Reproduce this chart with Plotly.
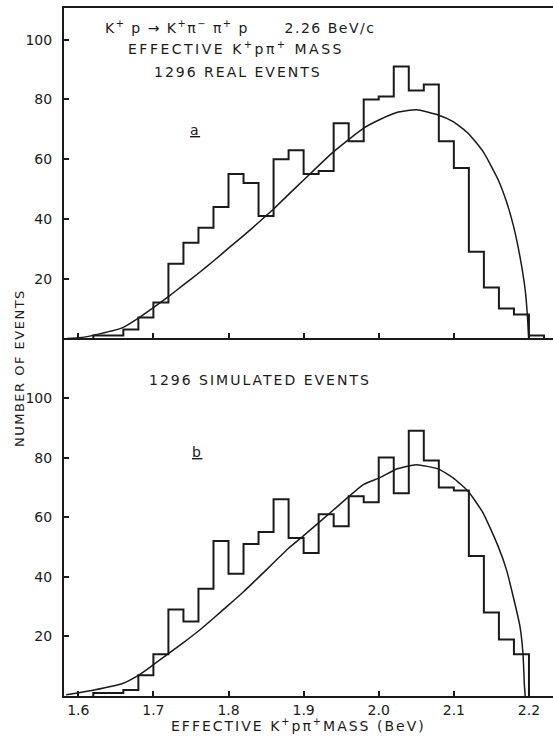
import plotly.graph_objects as go

# ---------------- data ----------------
tick_vals = [1.6, 1.7, 1.8, 1.9, 2.0, 2.1, 2.2]
tick_text = ["1.6", "1.7", "1.8", "1.9", "2.0", "2.1", "2.2"]
y_ticks = [20, 40, 60, 80, 100]
y_tick_text = ["20", "40", "60", "80", "100"]

# lower bin edges (bin width 0.02 BeV)
bins_a = [1.62, 1.64, 1.66, 1.68, 1.70, 1.72, 1.74, 1.76, 1.78, 1.80,
          1.82, 1.84, 1.86, 1.88, 1.90, 1.92, 1.94, 1.96, 1.98, 2.00,
          2.02, 2.04, 2.06, 2.08, 2.10, 2.12, 2.14, 2.16, 2.18, 2.20]
counts_a = [1, 1, 3, 7, 12, 25, 32, 37, 44, 55,
            52, 41, 60, 63, 55, 56, 72, 66, 80, 81,
            91, 83, 85, 66, 57, 29, 17, 10, 8, 1]
end_a = 2.22

bins_b = [1.62, 1.64, 1.66, 1.68, 1.70, 1.72, 1.74, 1.76, 1.78, 1.80,
          1.82, 1.84, 1.86, 1.88, 1.90, 1.92, 1.94, 1.96, 1.98, 2.00,
          2.02, 2.04, 2.06, 2.08, 2.10, 2.12, 2.14, 2.16, 2.18]
counts_b = [1, 1, 2, 7, 14, 29, 25, 36, 52, 41,
            51, 55, 66, 53, 48, 61, 57, 67, 65, 80,
            68, 89, 79, 70, 69, 47, 28, 19, 14]
end_b = 2.20

# phase-space curves
curve_a_x = [1.585, 1.601, 1.621, 1.659, 1.68, 1.70, 1.72, 1.74, 1.76, 1.78,
             1.80, 1.82, 1.84, 1.86, 1.88, 1.90, 1.94, 1.98, 2.001, 2.024,
             2.050, 2.079, 2.099, 2.119, 2.139, 2.159, 2.170, 2.179, 2.188, 2.195,
             2.198, 2.1996]
curve_a_y = [0, 0.2, 1.1, 3.6, 6.8, 10.3, 14.0, 17.9, 21.8, 25.9,
             30.2, 34.4, 38.8, 43.3, 48.2, 53.0, 62.5, 70.4, 73.2, 75.6,
             76.5, 74.8, 72.6, 68.7, 62.5, 53.1, 45.8, 38.0, 27.4, 16.2,
             7.3, 0]
curve_b_x = [1.584, 1.601, 1.621, 1.659, 1.68, 1.70, 1.72, 1.74, 1.76, 1.78,
             1.80, 1.82, 1.84, 1.86, 1.88, 1.90, 1.94, 1.98, 2.001, 2.024,
             2.050, 2.079, 2.099, 2.119, 2.139, 2.159, 2.170, 2.179, 2.188, 2.192,
             2.194, 2.195]
curve_b_y = [0.4, 1.1, 2.0, 4.2, 6.9, 10.5, 14.2, 17.9, 21.8, 26.1,
             30.5, 35.0, 39.8, 44.7, 49.6, 53.8, 62.5, 71.0, 73.2, 76.2,
             77.6, 76.2, 73.2, 68.7, 61.4, 50.2, 42.4, 33.4, 23.4, 14.4,
             3.2, 0]

# ---------------- layout helpers ----------------
W, H = 553, 742
ML, MR, MT, MB = 64, 0, 8, 46
PW, PH = W - ML - MR, H - MT - MB
def px(x):
    return (x - ML) / PW
def py(y):
    return (H - MB - y) / PH

split = py(338.4)
INK = "#1a1a1a"
FONT = "DejaVu Sans"


def spaced(s, sp=1.5):
    return f"<span style='letter-spacing:{sp}px'>{s}</span>"


def hist_xy(edges, counts, end):
    xs = [edges[0]] + list(edges) + [end, end]
    ys = [0] + list(counts) + [counts[-1], 0]
    return xs, ys


fig = go.Figure()
xa, ya = hist_xy(bins_a, counts_a, end_a)
fig.add_trace(go.Scatter(x=xa, y=ya, mode="lines", line=dict(shape="hv", color=INK, width=2),
                         xaxis="x", yaxis="y", showlegend=False, hoverinfo="skip"))
fig.add_trace(go.Scatter(x=curve_a_x, y=curve_a_y, mode="lines",
                         line=dict(shape="spline", smoothing=0.5, color=INK, width=1.5),
                         xaxis="x", yaxis="y", showlegend=False, hoverinfo="skip"))
xb, yb = hist_xy(bins_b, counts_b, end_b)
fig.add_trace(go.Scatter(x=xb, y=yb, mode="lines", line=dict(shape="hv", color=INK, width=2),
                         xaxis="x2", yaxis="y2", showlegend=False, hoverinfo="skip"))
fig.add_trace(go.Scatter(x=curve_b_x, y=curve_b_y, mode="lines",
                         line=dict(shape="spline", smoothing=0.5, color=INK, width=1.5),
                         xaxis="x2", yaxis="y2", showlegend=False, hoverinfo="skip"))

x_range = [1.581, 2.232]
axis_common = dict(showgrid=False, zeroline=False, showline=True, linecolor=INK, linewidth=2,
                   ticks="inside", ticklen=5, tickcolor=INK, tickwidth=1.5,
                   tickfont=dict(family=FONT, size=14, color=INK))

fig.update_layout(
    width=W, height=H,
    margin=dict(l=ML, r=MR, t=MT, b=MB),
    paper_bgcolor="white", plot_bgcolor="white",
    xaxis=dict(domain=[0, 1], anchor="y", range=x_range, tickvals=tick_vals,
               showticklabels=False, mirror=True, **axis_common),
    yaxis=dict(domain=[split, 1], anchor="x", range=[0, 110.6], tickvals=y_ticks,
               ticktext=y_tick_text, ticklabelstandoff=7, **axis_common),
    xaxis2=dict(domain=[0, 1], anchor="y2", range=x_range, tickvals=tick_vals,
                ticktext=tick_text, **axis_common),
    yaxis2=dict(domain=[0, split], anchor="x2", range=[0, 120], tickvals=y_ticks,
                ticktext=y_tick_text, ticklabelstandoff=7, **axis_common),
)

def label(text, x, y, size=14, sp=1.5, **kw):
    fig.add_annotation(text=spaced(text, sp), x=px(x), y=py(y), xref="paper", yref="paper",
                       xanchor="center", yanchor="middle",
                       showarrow=False, font=dict(family=FONT, size=size, color=INK), **kw)

label("K<sup>+</sup> p → K<sup>+</sup>π<sup>−</sup> π<sup>+</sup> p      2.26 BeV/c", 240, 27)
label("EFFECTIVE K<sup>+</sup>pπ<sup>+</sup> MASS", 236, 48, sp=2.5)
label("1296 REAL EVENTS", 238, 72, sp=2)
label("<u>a</u>", 195, 130)
label("1296 SIMULATED EVENTS", 260, 380, sp=2)
label("<u>b</u>", 197, 452)
label("NUMBER OF EVENTS", 19, 368, size=13, sp=1.5, textangle=-90)
label("EFFECTIVE K<sup>+</sup>pπ<sup>+</sup>MASS (BeV)", 298, 725, sp=2)

fig.write_html("out.html")
